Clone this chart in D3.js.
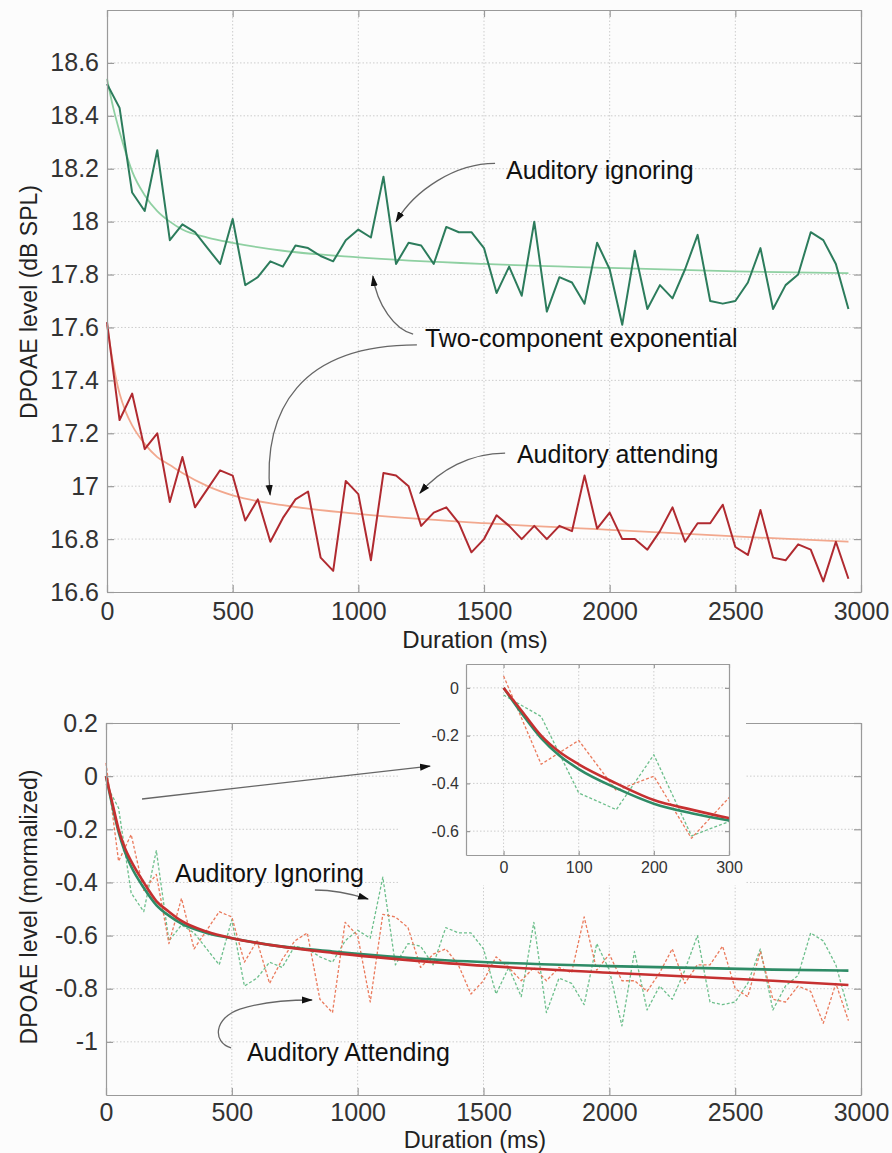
<!DOCTYPE html>
<html>
<head>
<meta charset="utf-8">
<script src="https://cdn.jsdelivr.net/npm/d3@7/dist/d3.min.js"></script>
<style>
body { margin: 0; background: #fcfcfc; }
svg { display: block; }
text { font-family: "Liberation Sans", Arial, sans-serif; }
</style>
</head>
<body>
<div id="figure"></div>
<script>
const width = 892, height = 1153;

// one sample every 50 ms
const times = d3.range(0, 3000, 50);

// top panel: DPOAE level (dB SPL)
const ignoringLevel = [
  18.52, 18.43, 18.11, 18.04, 18.27, 17.93, 17.99, 17.96, 17.90, 17.84,
  18.01, 17.76, 17.79, 17.85, 17.83, 17.91, 17.90, 17.87, 17.85, 17.93,
  17.97, 17.94, 18.17, 17.84, 17.92, 17.91, 17.84, 17.98, 17.96, 17.96,
  17.90, 17.73, 17.83, 17.72, 18.00, 17.66, 17.79, 17.77, 17.69, 17.92,
  17.82, 17.61, 17.89, 17.67, 17.76, 17.71, 17.82, 17.95, 17.70, 17.69,
  17.70, 17.77, 17.90, 17.67, 17.76, 17.80, 17.96, 17.93, 17.84, 17.67
];
const attendingLevel = [
  17.62, 17.25, 17.35, 17.14, 17.20, 16.94, 17.11, 16.92, 16.99, 17.06,
  17.04, 16.87, 16.95, 16.79, 16.88, 16.95, 16.98, 16.73, 16.68, 17.02,
  16.97, 16.72, 17.05, 17.04, 17.00, 16.85, 16.90, 16.92, 16.86, 16.75,
  16.80, 16.89, 16.85, 16.80, 16.85, 16.80, 16.85, 16.83, 17.04, 16.84,
  16.90, 16.80, 16.80, 16.76, 16.83, 16.92, 16.79, 16.86, 16.86, 16.93,
  16.77, 16.74, 16.91, 16.73, 16.72, 16.78, 16.76, 16.64, 16.79, 16.65
];
const fitTimes = [0, 25, 50, 75, 100, 150, 200, 250, 300, 400, 500, 700, 1000, 1500, 2000, 2500, 2950];
const ignoringFit = [18.54, 18.43, 18.34, 18.26, 18.19, 18.10, 18.04, 18.00, 17.97, 17.94, 17.92, 17.89, 17.865, 17.84, 17.825, 17.812, 17.805];
const attendingFit = [17.61, 17.46, 17.35, 17.28, 17.23, 17.16, 17.11, 17.08, 17.05, 17.00, 16.965, 16.928, 16.895, 16.86, 16.835, 16.81, 16.79];

// bottom panel: normalized level
const ignoringNorm = [
  -0.03, -0.12, -0.44, -0.51, -0.28, -0.62, -0.56, -0.59, -0.65, -0.71,
  -0.54, -0.79, -0.76, -0.70, -0.72, -0.64, -0.65, -0.68, -0.70, -0.62,
  -0.58, -0.61, -0.38, -0.71, -0.63, -0.64, -0.71, -0.57, -0.59, -0.59,
  -0.65, -0.82, -0.72, -0.83, -0.55, -0.89, -0.76, -0.78, -0.86, -0.63,
  -0.73, -0.94, -0.66, -0.88, -0.79, -0.84, -0.73, -0.60, -0.85, -0.86,
  -0.85, -0.78, -0.65, -0.88, -0.79, -0.75, -0.59, -0.62, -0.71, -0.88
];
const attendingNorm = [
   0.05, -0.32, -0.22, -0.43, -0.37, -0.63, -0.46, -0.65, -0.58, -0.51,
  -0.53, -0.70, -0.62, -0.78, -0.69, -0.62, -0.59, -0.84, -0.89, -0.55,
  -0.60, -0.85, -0.52, -0.53, -0.57, -0.72, -0.67, -0.65, -0.71, -0.82,
  -0.77, -0.68, -0.72, -0.77, -0.72, -0.77, -0.72, -0.74, -0.53, -0.73,
  -0.67, -0.77, -0.77, -0.81, -0.74, -0.65, -0.78, -0.71, -0.71, -0.64,
  -0.80, -0.83, -0.66, -0.84, -0.85, -0.79, -0.81, -0.93, -0.78, -0.92
];
const normFitTimes = [0, 25, 50, 75, 100, 150, 200, 250, 300, 400, 500, 650, 900, 1300, 2000, 2650, 2950];
const ignoringNormFit = [0, -0.11, -0.21, -0.285, -0.34, -0.42, -0.485, -0.525, -0.555, -0.59, -0.61, -0.635, -0.66, -0.69, -0.715, -0.728, -0.732];
const attendingNormFit = [0, -0.10, -0.20, -0.27, -0.32, -0.40, -0.47, -0.51, -0.545, -0.585, -0.61, -0.635, -0.665, -0.70, -0.74, -0.77, -0.786];

// ticks
const xTicks = [0, 500, 1000, 1500, 2000, 2500, 3000];
const levelTicks = [16.6, 16.8, 17, 17.2, 17.4, 17.6, 17.8, 18, 18.2, 18.4, 18.6];
const normTicks = [-1, -0.8, -0.6, -0.4, -0.2, 0, 0.2];
const insetXTicks = [0, 100, 200, 300];
const insetYTicks = [-0.6, -0.4, -0.2, 0];

// annotations, in data coordinates (bezier control points)
const topArrows = [
  [[1544, 18.22], [1385, 18.22], [1225, 18.12], [1150, 18.0]],
  [[1218, 17.575], [1146, 17.59], [1074, 17.685], [1058, 17.794]],
  [[1233, 17.534], [768, 17.534], [617, 17.288], [649, 16.967]],
  [[1584, 17.125], [1444, 17.125], [1325, 17.061], [1245, 16.974]]
];
const topLabels = [
  {text: "Auditory ignoring", t: 1588, v: 18.161},
  {text: "Two-component exponential", t: 1265, v: 17.526},
  {text: "Auditory attending", t: 1631, v: 17.088}
];
const bottomArrows = [
  [[143, -0.086], [1287, 0.038]],
  [[830, -0.4285], [910, -0.4285], [977, -0.4436], [1041, -0.4624]],
  [[497, -1.023], [421, -1.0006], [429, -0.9102], [532, -0.8764], [620, -0.85], [731, -0.8425], [818, -0.8425]]
];
const bottomLabels = [
  {text: "Auditory Ignoring", t: 274, v: -0.398},
  {text: "Auditory Attending", t: 560, v: -1.072}
];

const colors = {
  ignoring: "#2c7c5c", ignoringFit: "#8fd0a2",
  attending: "#b02a30", attendingFit: "#f2a88e",
  ignoringDash: "#6dbf8c", attendingDash: "#ea7a5c",
  ignoringSolid: "#2e8b66", attendingSolid: "#c63030"
};

const svg = d3.select("#figure").append("svg")
  .attr("width", width).attr("height", height);

svg.append("defs").append("marker")
  .attr("id", "ah")
  .attr("viewBox", "0 0 10 10")
  .attr("refX", 9).attr("refY", 5)
  .attr("markerWidth", 11).attr("markerHeight", 11)
  .attr("markerUnits", "userSpaceOnUse")
  .attr("orient", "auto")
  .append("path").attr("d", "M0,1.8L10,5L0,8.2Z").attr("fill", "#111");

const fmt = d => String(+d.toFixed(1));

function drawPanel(p) {
  const x = d3.scaleLinear().domain(p.xDomain).range([p.left, p.right]);
  const y = d3.scaleLinear().domain(p.yDomain).range([p.bottom, p.top]);
  const g = svg.append("g");

  if (p.cover) {
    g.append("rect")
      .attr("x", p.left - p.cover[0]).attr("y", p.top - p.cover[1])
      .attr("width", p.right - p.left + p.cover[0] + p.cover[2])
      .attr("height", p.bottom - p.top + p.cover[1] + p.cover[3])
      .attr("fill", "#fcfcfc");
  }

  // dotted grid
  const grid = g.append("g").attr("stroke", "#cdcdcd").attr("stroke-width", 1).attr("stroke-dasharray", "1.5,2");
  grid.selectAll(".gx").data(p.xTicks.filter(t => t > p.xDomain[0] && t < p.xDomain[1])).join("line")
    .attr("x1", x).attr("x2", x).attr("y1", p.top).attr("y2", p.bottom);
  grid.selectAll(".gy").data(p.yTicks.filter(t => t > p.yDomain[0] && t < p.yDomain[1])).join("line")
    .attr("y1", y).attr("y2", y).attr("x1", p.left).attr("x2", p.right);

  const data = g.append("g");
  if (p.clip) {
    const id = "clip" + Math.round(p.left);
    svg.select("defs").append("clipPath").attr("id", id)
      .append("rect").attr("x", p.left).attr("y", p.top)
      .attr("width", p.right - p.left).attr("height", p.bottom - p.top);
    data.attr("clip-path", `url(#${id})`);
  }

  const axes = g.append("g");
  const styleAxis = sel => {
    sel.select(".domain").attr("stroke", "#9a9a9a").attr("stroke-width", 1.2);
    sel.selectAll(".tick line").attr("stroke", "#9a9a9a").attr("stroke-width", 1.2);
    sel.selectAll("text").attr("fill", "#333").attr("font-size", p.fontSize)
      .attr("font-family", '"Liberation Sans", Arial, sans-serif');
    sel.attr("font-family", null).attr("font-size", null);
  };
  axes.append("g").attr("transform", `translate(0,${p.bottom})`)
    .call(d3.axisBottom(x).tickValues(p.xTicks).tickSizeInner(-p.tick).tickSizeOuter(0).tickPadding(p.padX).tickFormat(fmt))
    .call(styleAxis);
  axes.append("g").attr("transform", `translate(${p.left},0)`)
    .call(d3.axisLeft(y).tickValues(p.yTicks).tickSizeInner(-p.tick).tickSizeOuter(0).tickPadding(p.padY).tickFormat(fmt))
    .call(styleAxis);
  axes.append("g").attr("transform", `translate(0,${p.top})`)
    .call(d3.axisTop(x).tickValues(p.xTicks).tickSizeInner(-p.tick).tickSizeOuter(0).tickFormat(() => ""))
    .call(styleAxis);
  axes.append("g").attr("transform", `translate(${p.right},0)`)
    .call(d3.axisRight(y).tickValues(p.yTicks).tickSizeInner(-p.tick).tickSizeOuter(0).tickFormat(() => ""))
    .call(styleAxis);

  return {x, y, data, g};
}

function series(layer, x, y, ts, vs, color, w, dash, curve) {
  const line = d3.line().x(d => x(d[0])).y(d => y(d[1])).curve(curve || d3.curveLinear);
  layer.append("path")
    .datum(ts.map((t, i) => [t, vs[i]]))
    .attr("d", line)
    .attr("fill", "none")
    .attr("stroke", color)
    .attr("stroke-width", w)
    .attr("stroke-linejoin", "round")
    .attr("stroke-dasharray", dash || null);
}

function arrowPath(x, y, pts) {
  const p = pts.map(d => [x(d[0]), y(d[1])]);
  if (p.length === 2) return `M${p[0]}L${p[1]}`;
  let s = `M${p[0]}`;
  for (let i = 1; i + 2 < p.length + 1; i += 3) s += `C${p[i]} ${p[i + 1]} ${p[i + 2]}`;
  return s;
}

function annotate(panel, arrows, labels) {
  const {x, y} = panel;
  const a = svg.append("g");
  a.selectAll("path").data(arrows).join("path")
    .attr("d", d => arrowPath(x, y, d))
    .attr("fill", "none").attr("stroke", "#666").attr("stroke-width", 1.3)
    .attr("marker-end", "url(#ah)");
  a.selectAll("text").data(labels).join("text")
    .attr("x", d => x(d.t)).attr("y", d => y(d.v))
    .attr("font-size", 25).attr("fill", "#111")
    .text(d => d.text);
}

function axisTitles(cx, cy, xSize, xLabel, yx, yy, yLabel) {
  svg.append("text").attr("x", cx).attr("y", cy).attr("text-anchor", "middle")
    .attr("font-size", xSize).attr("fill", "#222").text(xLabel);
  svg.append("text").attr("transform", `translate(${yx},${yy}) rotate(-90)`)
    .attr("text-anchor", "middle").attr("font-size", 23).attr("fill", "#222").text(yLabel);
}

// ---- top panel
const topPanel = drawPanel({
  left: 107, right: 861, top: 10, bottom: 592,
  xDomain: [0, 3000], yDomain: [16.6, 18.8],
  xTicks, yTicks: levelTicks, tick: 7, padX: 10, padY: 8, fontSize: 25
});
series(topPanel.data, topPanel.x, topPanel.y, fitTimes, ignoringFit, colors.ignoringFit, 1.8, null, d3.curveMonotoneX);
series(topPanel.data, topPanel.x, topPanel.y, fitTimes, attendingFit, colors.attendingFit, 1.8, null, d3.curveMonotoneX);
series(topPanel.data, topPanel.x, topPanel.y, times, ignoringLevel, colors.ignoring, 2);
series(topPanel.data, topPanel.x, topPanel.y, times, attendingLevel, colors.attending, 2);
annotate(topPanel, topArrows, topLabels);

// ---- bottom panel
const bottomPanel = drawPanel({
  left: 106, right: 861, top: 723, bottom: 1095,
  xDomain: [0, 3000], yDomain: [-1.2, 0.2],
  xTicks, yTicks: normTicks, tick: 7, padX: 8, padY: 8, fontSize: 25
});
series(bottomPanel.data, bottomPanel.x, bottomPanel.y, times, ignoringNorm, colors.ignoringDash, 1.3, "3,2");
series(bottomPanel.data, bottomPanel.x, bottomPanel.y, times, attendingNorm, colors.attendingDash, 1.3, "3,2");
series(bottomPanel.data, bottomPanel.x, bottomPanel.y, normFitTimes, ignoringNormFit, colors.ignoringSolid, 2.6, null, d3.curveMonotoneX);
series(bottomPanel.data, bottomPanel.x, bottomPanel.y, normFitTimes, attendingNormFit, colors.attendingSolid, 2.6, null, d3.curveMonotoneX);

// ---- inset, first 300 ms
const insetPanel = drawPanel({
  left: 466, right: 729, top: 664, bottom: 855,
  xDomain: [-50, 300], yDomain: [-0.7, 0.1],
  xTicks: insetXTicks, yTicks: insetYTicks, tick: 4, padX: 7, padY: 7, fontSize: 16,
  cover: [66, 11, 17, 30], clip: true
});
series(insetPanel.data, insetPanel.x, insetPanel.y, times, ignoringNorm, colors.ignoringDash, 1.3, "3,2");
series(insetPanel.data, insetPanel.x, insetPanel.y, times, attendingNorm, colors.attendingDash, 1.3, "3,2");
series(insetPanel.data, insetPanel.x, insetPanel.y, normFitTimes, ignoringNormFit, colors.ignoringSolid, 2.6, null, d3.curveMonotoneX);
series(insetPanel.data, insetPanel.x, insetPanel.y, normFitTimes, attendingNormFit, colors.attendingSolid, 2.6, null, d3.curveMonotoneX);

annotate(bottomPanel, bottomArrows, bottomLabels);

// axis titles last so nothing covers them
axisTitles(475, 648, 24, "Duration (ms)", 37, 302, "DPOAE level (dB SPL)");
axisTitles(475, 1148, 23.5, "Duration (ms)", 37, 907, "DPOAE level (mormalized)");
</script>
</body>
</html>
